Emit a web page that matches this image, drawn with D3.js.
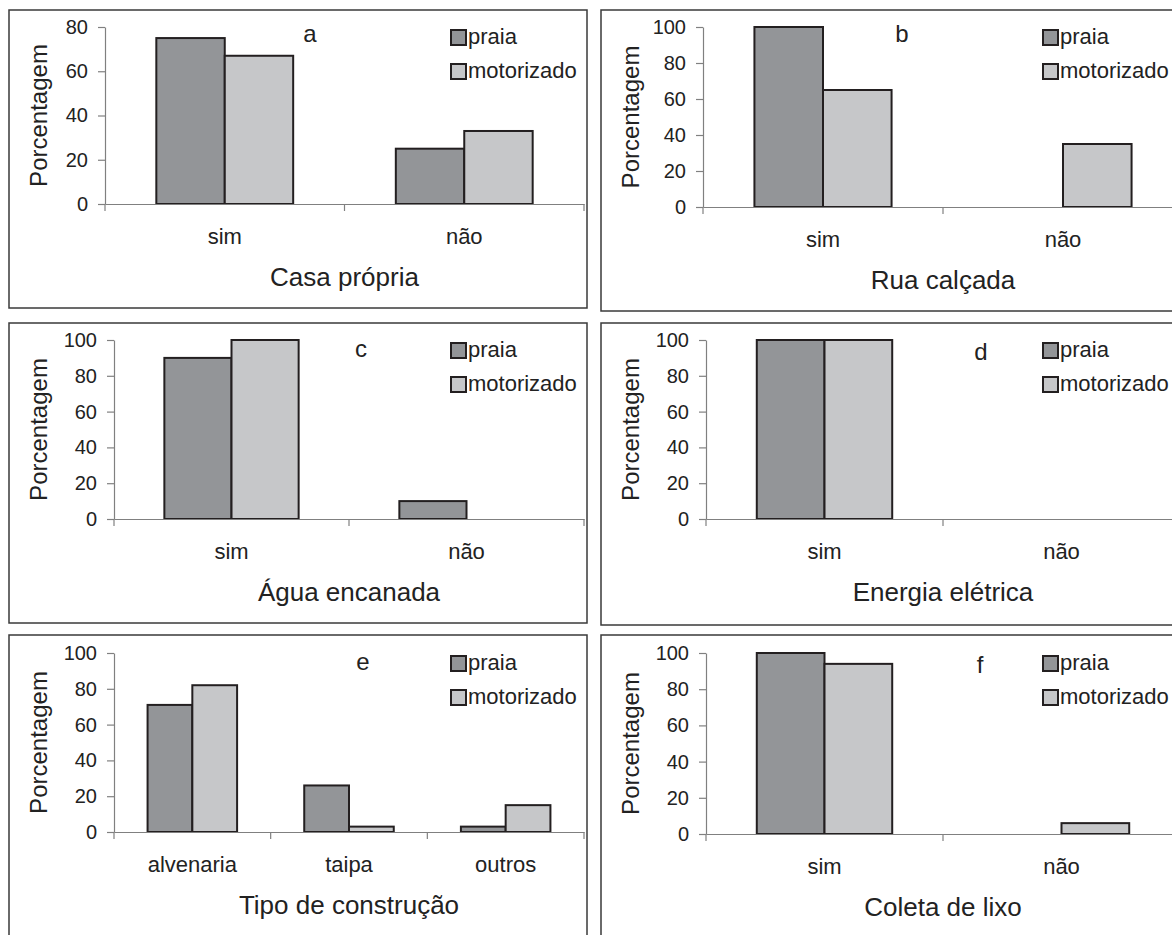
<!DOCTYPE html>
<html lang="pt">
<head>
    <meta charset="UTF-8">
    <title>Condições de moradia</title>
    <style>
        html, body {
            margin: 0;
            padding: 0;
            background: #ffffff;
        }

        svg text {
            font-family: "Liberation Sans", Arial, sans-serif;
            fill: #222222;
        }
    </style>
</head>
<body>
<svg id="chart" width="1172" height="935"></svg>
<script src="https://cdnjs.cloudflare.com/ajax/libs/d3/7.8.5/d3.min.js"></script>
<script>
    "use strict"

    // dados (porcentagem)
    const series = ["praia", "motorizado"];
    const simNao = ["sim", "não"];
    const tiposConstrucao = ["alvenaria", "taipa", "outros"];

    const casaPropriaPraia = [75, 25];
    const casaPropriaMotorizado = [67, 33];
    const ruaCalcadaPraia = [100, 0];
    const ruaCalcadaMotorizado = [65, 35];
    const aguaEncanadaPraia = [90, 10];
    const aguaEncanadaMotorizado = [100, 0];
    const energiaPraia = [100, 0];
    const energiaMotorizado = [100, 0];
    const construcaoPraia = [71, 26, 3];
    const construcaoMotorizado = [82, 3, 15];
    const coletaLixoPraia = [100, 0];
    const coletaLixoMotorizado = [94, 6];

    const titles = ["Casa própria", "Rua calçada", "Água encanada", "Energia elétrica",
        "Tipo de construção", "Coleta de lixo"];
    const letters = ["a", "b", "c", "d", "e", "f"];
    const yMax = [80, 100, 100, 100, 100, 100];

    const colors = {praia: "#939598", motorizado: "#c6c7c9"};

    // posição de cada quadro na página
    const layout = [
        {x: 9, y: 10, w: 578, h: 298, left: 105, top: 27, bottom: 204, right: 584, lx: 310, ly: 42},
        {x: 601, y: 10, w: 585, h: 301, left: 703, top: 27, bottom: 207, right: 1183, lx: 902, ly: 42},
        {x: 9, y: 323, w: 578, h: 300, left: 114, top: 340, bottom: 519, right: 584, lx: 361, ly: 357},
        {x: 601, y: 323, w: 585, h: 302, left: 706, top: 340, bottom: 519, right: 1180, lx: 981, ly: 360},
        {x: 9, y: 635, w: 578, h: 305, left: 114, top: 653, bottom: 832, right: 584, lx: 363, ly: 670},
        {x: 601, y: 635, w: 585, h: 305, left: 706, top: 653, bottom: 834, right: 1180, lx: 980, ly: 673}
    ];

    const panels = [
        {cats: simNao, values: [casaPropriaPraia, casaPropriaMotorizado]},
        {cats: simNao, values: [ruaCalcadaPraia, ruaCalcadaMotorizado]},
        {cats: simNao, values: [aguaEncanadaPraia, aguaEncanadaMotorizado]},
        {cats: simNao, values: [energiaPraia, energiaMotorizado]},
        {cats: tiposConstrucao, values: [construcaoPraia, construcaoMotorizado]},
        {cats: simNao, values: [coletaLixoPraia, coletaLixoMotorizado]}
    ];

    const svg = d3.select("#chart");
    const axisColor = "#808080";

    panels.forEach((p, i) => {
        const L = layout[i];
        const g = svg.append("g");

        // moldura
        g.append("rect")
            .attr("x", L.x)
            .attr("y", L.y)
            .attr("width", L.w)
            .attr("height", L.h)
            .attr("fill", "none")
            .attr("stroke", "#3a3a3a")
            .attr("stroke-width", 1.5);

        // escalas (gap de 150% como no Excel)
        const x = d3.scaleBand()
            .domain(p.cats)
            .range([L.left, L.right])
            .paddingInner(1.5 / 3.5)
            .paddingOuter(1.5 / 7);
        const xs = d3.scaleBand()
            .domain(series)
            .range([0, x.bandwidth()]);
        const y = d3.scaleLinear()
            .domain([0, yMax[i]])
            .range([L.bottom, L.top]);

        // eixo y
        const yAxis = g.append("g")
            .attr("transform", `translate(${L.left},0)`)
            .call(d3.axisLeft(y).tickValues(d3.range(0, yMax[i] + 1, 20)).tickSize(7).tickSizeOuter(0).tickPadding(10));
        yAxis.selectAll("path, line").attr("stroke", axisColor).attr("stroke-width", 1.2);
        yAxis.selectAll("text").attr("font-size", 20).attr("fill", "#222");

        // barras
        const rows = [];
        p.cats.forEach((c, ci) => {
            series.forEach((s, si) => {
                rows.push({cat: c, serie: s, value: p.values[si][ci]});
            });
        });
        g.selectAll("rect.bar")
            .data(rows.filter(d => d.value > 0))
            .enter()
            .append("rect")
            .attr("class", "bar")
            .attr("x", d => x(d.cat) + xs(d.serie))
            .attr("y", d => y(d.value))
            .attr("width", xs.bandwidth())
            .attr("height", d => y(0) - y(d.value))
            .attr("fill", d => colors[d.serie])
            .attr("stroke", "#231f20")
            .attr("stroke-width", 2);

        // eixo x
        const xAxis = g.append("g")
            .attr("transform", `translate(0,${L.bottom})`)
            .call(d3.axisBottom(x).tickSize(0).tickSizeOuter(0).tickPadding(24));
        xAxis.select(".domain").attr("stroke", axisColor).attr("stroke-width", 1.2);
        xAxis.selectAll("text").attr("font-size", 22).attr("fill", "#222");

        // marcas entre categorias
        g.selectAll("line.sep")
            .data(d3.range(p.cats.length + 1))
            .enter()
            .append("line")
            .attr("class", "sep")
            .attr("x1", k => L.left + k * x.step())
            .attr("x2", k => L.left + k * x.step())
            .attr("y1", L.bottom)
            .attr("y2", L.bottom + 7)
            .attr("stroke", axisColor)
            .attr("stroke-width", 1.2);

        // título do eixo y
        g.append("text")
            .attr("transform", `translate(${L.x + 38},${(L.top + L.bottom) / 2}) rotate(-90)`)
            .attr("text-anchor", "middle")
            .attr("font-size", 24)
            .text("Porcentagem");

        // título do quadro
        g.append("text")
            .attr("x", (L.left + L.right) / 2)
            .attr("y", L.bottom + 82)
            .attr("text-anchor", "middle")
            .attr("font-size", 26)
            .text(titles[i]);

        // letra
        g.append("text")
            .attr("x", L.lx)
            .attr("y", L.ly)
            .attr("text-anchor", "middle")
            .attr("font-size", 24)
            .text(letters[i]);

        // legenda
        const leg = g.append("g")
            .attr("transform", `translate(${L.x + 442},${L.top + 3})`);
        series.forEach((s, si) => {
            leg.append("rect")
                .attr("x", 0)
                .attr("y", si * 34)
                .attr("width", 15)
                .attr("height", 15)
                .attr("fill", colors[s])
                .attr("stroke", "#231f20")
                .attr("stroke-width", 2);
            leg.append("text")
                .attr("x", 17)
                .attr("y", si * 34 + 14)
                .attr("font-size", 22)
                .text(s);
        });
    });
</script>
</body>
</html>
